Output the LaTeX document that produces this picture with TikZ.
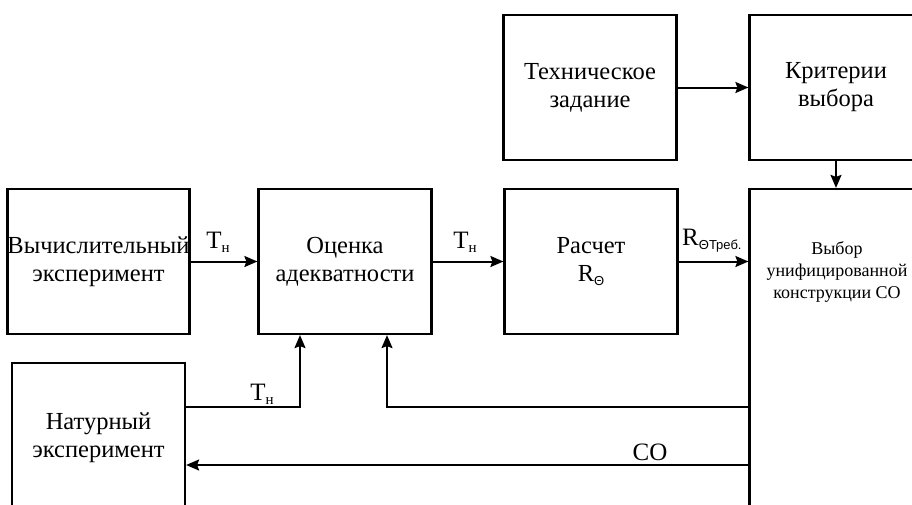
\documentclass[tikz,border=0pt]{standalone}
\usepackage{fontspec}
\setmainfont{Liberation Serif}
\newfontfamily\sansf{Liberation Sans}
\usetikzlibrary{arrows.meta}
\newcommand\Tn{T\raisebox{-4pt}{\fontsize{15}{15}\selectfont н}}
\newcommand\Rsub[1]{R\raisebox{-4pt}{\sansf\fontsize{13}{13}\selectfont #1}}
\begin{document}
\begin{tikzpicture}[x=1pt,y=-1pt,
  box/.style={draw, line width=2.2pt, inner sep=0pt, minimum width=173pt, minimum height=145pt, align=center, font=\fontsize{24.5}{28}\selectfont},
  arr/.style={line width=2pt, -{Stealth[length=13pt,width=11pt,inset=2pt]}},
  lbl/.style={inner sep=0pt, anchor=base, font=\fontsize{25}{28}\selectfont}]
\useasboundingbox (0,0) rectangle (912,504);
\clip (0,0) rectangle (912,504);
\node[box] (vych) at (98.5,261.5) {Вычислительный\\эксперимент};
\node[box] (ocen) at (345,261.5) {Оценка\\адекватности};
\node[box] (rasch) at (591,261.5) {Расчет\\\Rsub{Θ}};
\node[box] (tech) at (590,87.5) {Техническое\\задание};
\node[box] (krit) at (836,87.5) {Критерии\\выбора};
\node[box, minimum height=330pt] (vybor) at (836,354) {};
\node[inner sep=0pt, align=center, font=\fontsize{18}{22}\selectfont] (vybtxt) at (837,272) {Выбор\\унифицированной\\конструкции СО};
\node[box, minimum height=150pt] (natur) at (98.5,438) {Натурный\\эксперимент};
\coordinate (j1) at (300,407);
\coordinate (j2) at (387,407);
\coordinate (j3) at (0,465);
\draw[arr] (vych.east) -- (ocen.west);
\draw[arr] (ocen.east) -- (rasch.west);
\draw[arr] (rasch.east) -- (rasch.east -| vybor.west);
\draw[arr] (tech.east) -- (krit.west);
\draw[arr] (krit.south) -- (vybor.north -| krit.south);
\draw[arr] (j1 -| natur.east) -- (j1) -- (j1 |- ocen.south);
\draw[arr] (j2 -| vybor.west) -- (j2) -- (j2 |- ocen.south);
\draw[arr] (j3 -| vybor.west) -- (j3 -| natur.east);
\node[lbl] (l1) at (218,248) {\Tn};
\node[lbl] (l2) at (465,248) {\Tn};
\node[lbl] (l3) at (262,400) {\Tn};
\node[lbl, anchor=base west] (l4) at (682,245) {\Rsub{ΘТреб.}};
\node[lbl] (l5) at (650,460) {СО};
\end{tikzpicture}
\end{document}
